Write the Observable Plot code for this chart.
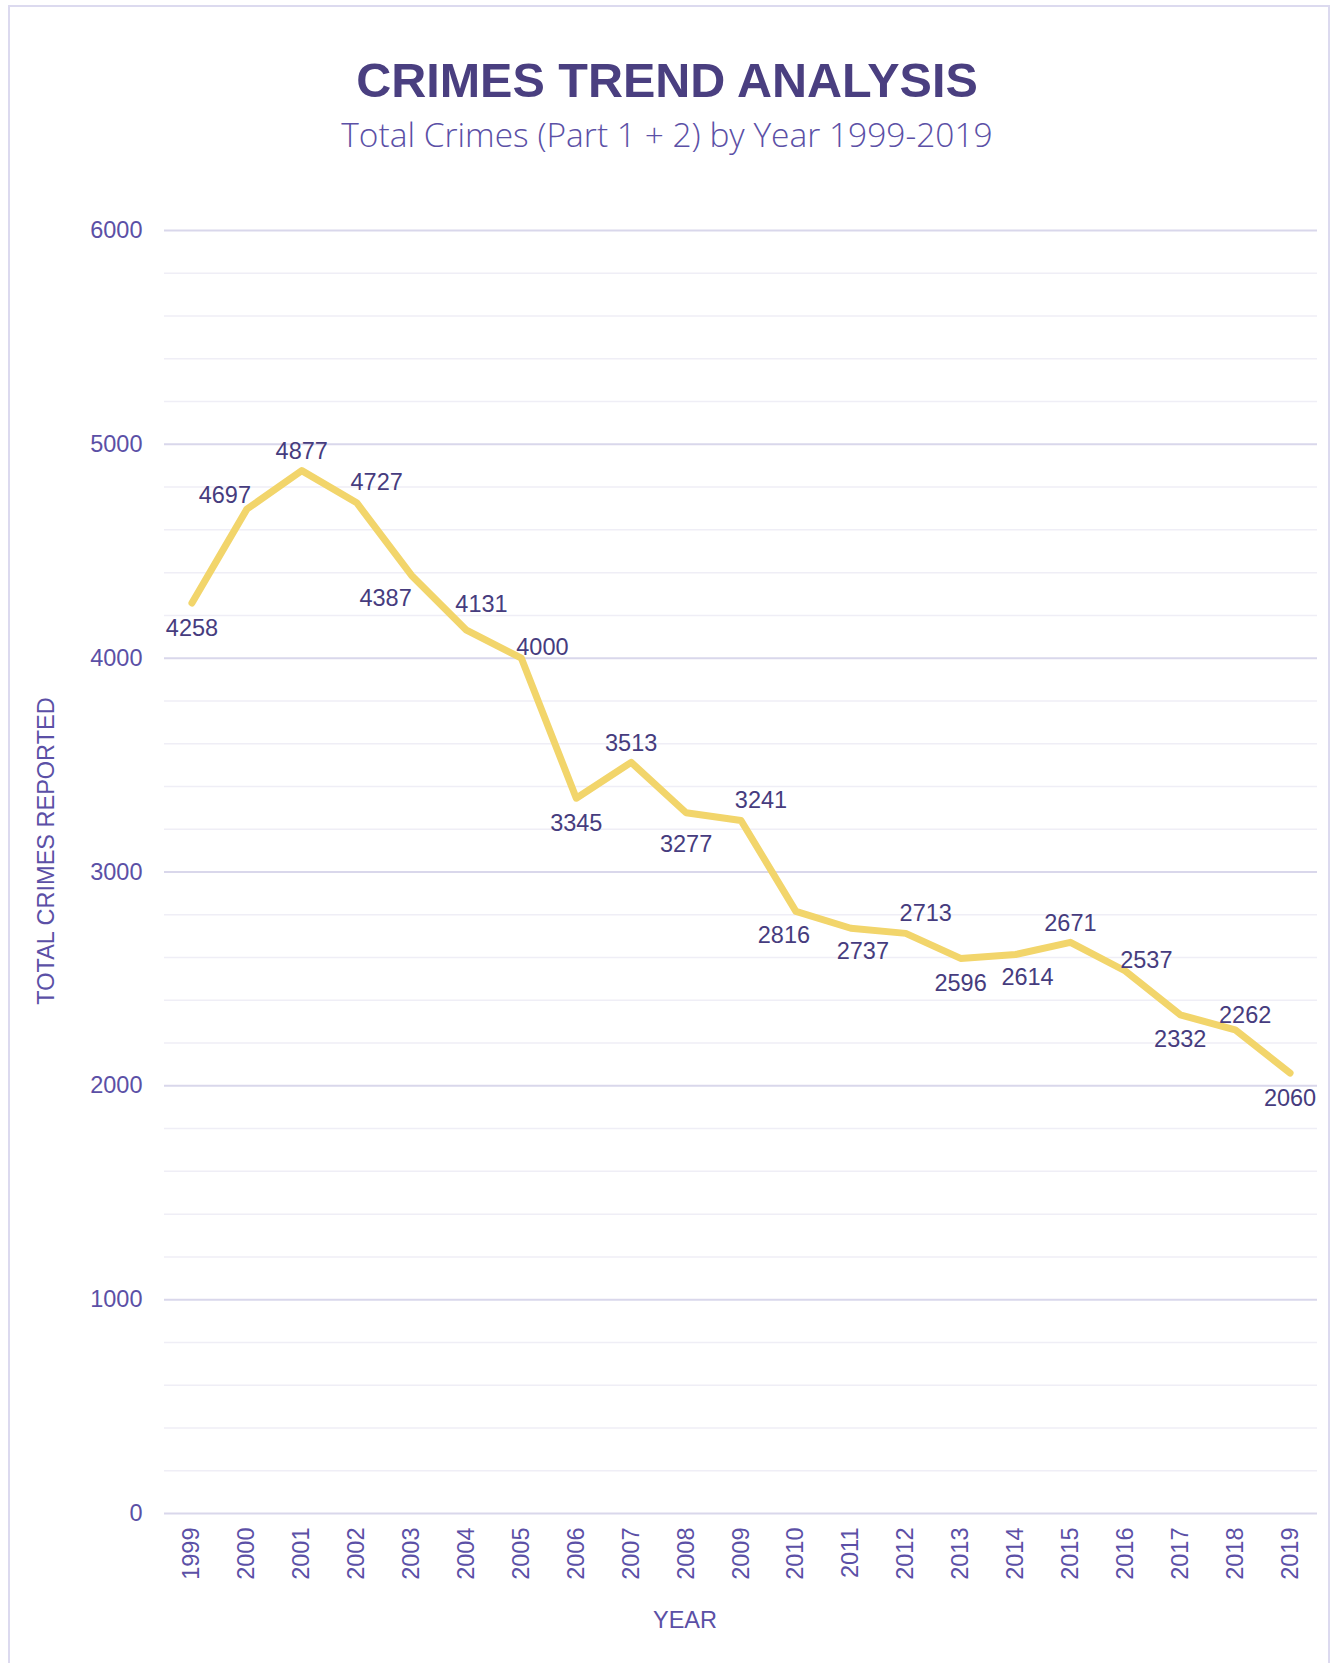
<!DOCTYPE html>
<html>
<head>
<meta charset="utf-8">
<script src="https://cdn.jsdelivr.net/npm/d3@7"></script>
<script src="https://cdn.jsdelivr.net/npm/@observablehq/plot@0.6"></script>
<style>
  html, body { margin: 0; padding: 0; background: #fff; }
  body { width: 1334px; height: 1663px; position: relative; overflow: hidden; font-family: "Liberation Sans", Arial, sans-serif; }
  #frame { position: absolute; left: 8px; top: 5px; width: 1322px; height: 1700px; border: 2px solid #dcdaef; box-sizing: border-box; }
  #header { position: relative; height: 170px; }
  #title { position: absolute; left: 0; right: 0; top: 52px; text-align: center; font-weight: bold; font-size: 48.5px; color: #4a3f80; line-height: 56px; }
  #subtitle { position: absolute; left: 0; right: 0; top: 114px; text-align: center; font-family: "Open Sans", sans-serif; font-weight: 300; font-size: 33.5px; color: #5b50a6; line-height: 40px; }
  #chart { position: relative; }
</style>
</head>
<body>
<div id="frame"></div>
<div id="header">
  <div id="title">CRIMES TREND ANALYSIS</div>
  <div id="subtitle">Total Crimes (Part 1 + 2) by Year 1999-2019</div>
</div>
<div id="chart"></div>
<script>
const years = ["1999","2000","2001","2002","2003","2004","2005","2006","2007","2008","2009","2010","2011","2012","2013","2014","2015","2016","2017","2018","2019"];
const totals = [4258,4697,4877,4727,4387,4131,4000,3345,3513,3277,3241,2816,2737,2713,2596,2614,2671,2537,2332,2262,2060];
const majorTicks = [0,1000,2000,3000,4000,5000,6000];
const minorTicks = [200,400,600,800,1200,1400,1600,1800,2200,2400,2600,2800,3200,3400,3600,3800,4200,4400,4600,4800,5200,5400,5600,5800];
// where each value label sits relative to its point (compass-style keywords)
const labelPlacement = ["s","nw","n","ne","wsw","nne","ene","s","n","ss","ne","ssw","se","ne","s","se","n","ene","s","neLow","s"];

const placementOffsets = {
  n:     {dx: 0,   dy: -19},
  s:     {dx: 0,   dy: 25},
  ss:    {dx: 0,   dy: 32},
  nw:    {dx: -22, dy: -14},
  ne:    {dx: 20,  dy: -20},
  nne:   {dx: 15,  dy: -26},
  neLow: {dx: 10,  dy: -14},
  ene:   {dx: 21,  dy: -11},
  wsw:   {dx: -26, dy: 23},
  ssw:   {dx: -12, dy: 24},
  se:    {dx: 12,  dy: 23}
};

const data = years.map((y, i) => ({year: y, total: totals[i], place: labelPlacement[i]}));

const labelMarks = Object.entries(placementOffsets).map(([key, off]) =>
  Plot.text(data.filter(d => d.place === key), {
    x: "year", y: "total", text: d => String(d.total),
    dx: off.dx, dy: off.dy, fill: "#463c7e", fontSize: 23.5, lineAnchor: "middle"
  })
);

const chart = Plot.plot({
  width: 1334,
  height: 1493,
  marginTop: 60,
  marginBottom: 150,
  marginLeft: 164,
  marginRight: 17,
  style: {fontFamily: "'Liberation Sans', Arial, sans-serif", fontSize: "23.5px", color: "#5b50a6", background: "transparent"},
  x: {type: "point", domain: years, padding: 0.5, round: false, label: null},
  y: {domain: [0, 6000], label: null},
  marks: [
    Plot.ruleY(minorTicks, {stroke: "#efeef6", strokeWidth: 1.5}),
    Plot.ruleY(majorTicks, {stroke: "#d9d7eb", strokeWidth: 2}),
    Plot.axisY({ticks: majorTicks, tickFormat: d => String(d), tickSize: 0, tickPadding: 22, fontSize: 23.5, fill: "#5b50a6", label: null}),
    Plot.axisX({tickSize: 0, tickPadding: 14, tickRotate: -90, fontSize: 23.5, fill: "#5b50a6", label: null}),
    Plot.line(data, {x: "year", y: "total", stroke: "#f2d56b", strokeWidth: 7, strokeLinecap: "round", strokeLinejoin: "round"}),
    ...labelMarks,
    Plot.text(["TOTAL CRIMES REPORTED"], {text: d => d, frameAnchor: "left", rotate: -90, dx: -118, dy: -21, textAnchor: "middle", fontSize: 23.5, fill: "#5b50a6", lineAnchor: "middle"}),
    Plot.text(["YEAR"], {text: d => d, frameAnchor: "bottom", dx: -56, dy: 107, textAnchor: "middle", fontSize: 23.5, fill: "#5b50a6", lineAnchor: "middle"})
  ]
});
document.getElementById("chart").appendChild(chart);
</script>
</body>
</html>
